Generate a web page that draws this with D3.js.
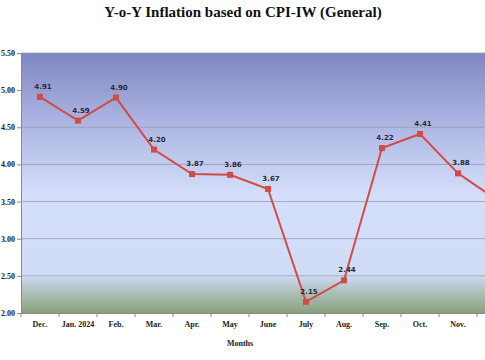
<!DOCTYPE html>
<html><head><meta charset="utf-8">
<script src="https://cdn.jsdelivr.net/npm/d3@7"></script>
<style>body{margin:0;background:#fff}svg{display:block}</style>
</head><body>
<script>
const months = ["Dec.","Jan. 2024","Feb.","Mar.","Apr.","May","June","July","Aug.","Sep.","Oct.","Nov.","Dec."];
const inflation = [4.91,4.59,4.90,4.20,3.87,3.86,3.67,2.15,2.44,4.22,4.41,3.88,3.53];
const yTicks = [2.0,2.5,3.0,3.5,4.0,4.5,5.0,5.5];
const showLabel = [true,true,true,true,true,true,true,true,true,true,true,true,false];

(function(){
const W=485,H=360;
const svg=d3.select("body").append("svg").attr("width",W).attr("height",H);
const pL=21, pT=53, pB=313, pR=515;
const x=d3.scaleBand().domain(d3.range(months.length)).range([pL,pR]);
const y=d3.scaleLinear().domain([2,5.5]).range([pB,pT]);

const defs=svg.append("defs");
const g=defs.append("linearGradient").attr("id","bg").attr("x1",0).attr("y1",0).attr("x2",0).attr("y2",1);
[[0,"#7f87c3"],[0.25,"#a9b2e0"],[0.55,"#d4dffb"],[0.855,"#d0dcf6"],[0.9,"#b6c8cc"],[0.95,"#a0b5a2"],[1,"#88a07e"]].forEach(s=>g.append("stop").attr("offset",s[0]).attr("stop-color",s[1]));

svg.append("rect").attr("x",pL).attr("y",pT).attr("width",pR-pL).attr("height",pB-pT).attr("fill","url(#bg)");

svg.append("g").selectAll("line").data(yTicks.slice(1)).join("line")
 .attr("x1",pL).attr("x2",pR).attr("y1",d=>y(d)).attr("y2",d=>y(d))
 .attr("stroke","#9a9cb0").attr("stroke-width",1).attr("opacity",0.8);

const ya=svg.append("g").attr("transform",`translate(${pL},0)`)
 .call(d3.axisLeft(y).tickValues(yTicks).tickFormat(d3.format(".2f")).tickSize(4).tickPadding(2));
ya.select(".domain").attr("stroke","#8a8a8a");
ya.selectAll(".tick line").attr("stroke","#8a8a8a");
ya.selectAll("text").attr("font-family","'Liberation Serif',serif").attr("font-weight","bold").attr("font-size",8).attr("fill","#222");

const xa=svg.append("g").attr("transform",`translate(0,${pB})`)
 .call(d3.axisBottom(x).tickFormat(i=>months[i]).tickSize(0).tickPadding(8));
xa.select(".domain").attr("stroke","#8a8a8a");
xa.selectAll("text").attr("font-family","'Liberation Serif',serif").attr("font-weight","bold").attr("font-size",8).attr("fill","#222");
svg.append("g").selectAll("line").data(d3.range(months.length+1)).join("line")
 .attr("x1",i=>pL+i*x.step()).attr("x2",i=>pL+i*x.step())
 .attr("y1",pB).attr("y2",pB+4).attr("stroke","#8a8a8a");

const cx=i=>x(i)+x.bandwidth()/2;
svg.append("path").datum(inflation)
 .attr("d",d3.line().x((d,i)=>cx(i)).y(d=>y(d)))
 .attr("fill","none").attr("stroke","#d24b46").attr("stroke-width",2);
svg.append("g").selectAll("rect").data(inflation).join("rect")
 .attr("x",(d,i)=>cx(i)-3).attr("y",d=>y(d)-3).attr("width",6).attr("height",6).attr("fill","#d24b46");

svg.append("g").selectAll("text").data(inflation.filter((d,i)=>showLabel[i])).join("text")
 .attr("x",(d,i)=>cx(i)+3).attr("y",d=>y(d)-8)
 .attr("text-anchor","middle").attr("font-family","'DejaVu Sans',sans-serif").attr("font-weight","bold")
 .attr("font-size",7).attr("fill","#2a2a3a").text(d=>d.toFixed(2));

svg.append("text").attr("x",243).attr("y",17).attr("text-anchor","middle")
 .attr("font-family","'Liberation Serif',serif").attr("font-weight","bold").attr("font-size",15).attr("fill","#111")
 .text("Y-o-Y Inflation based on CPI-IW (General)");
svg.append("text").attr("x",240).attr("y",346).attr("text-anchor","middle")
 .attr("font-family","'Liberation Serif',serif").attr("font-weight","bold").attr("font-size",8).attr("fill","#222")
 .text("Months");
})();
</script>
</body></html>
